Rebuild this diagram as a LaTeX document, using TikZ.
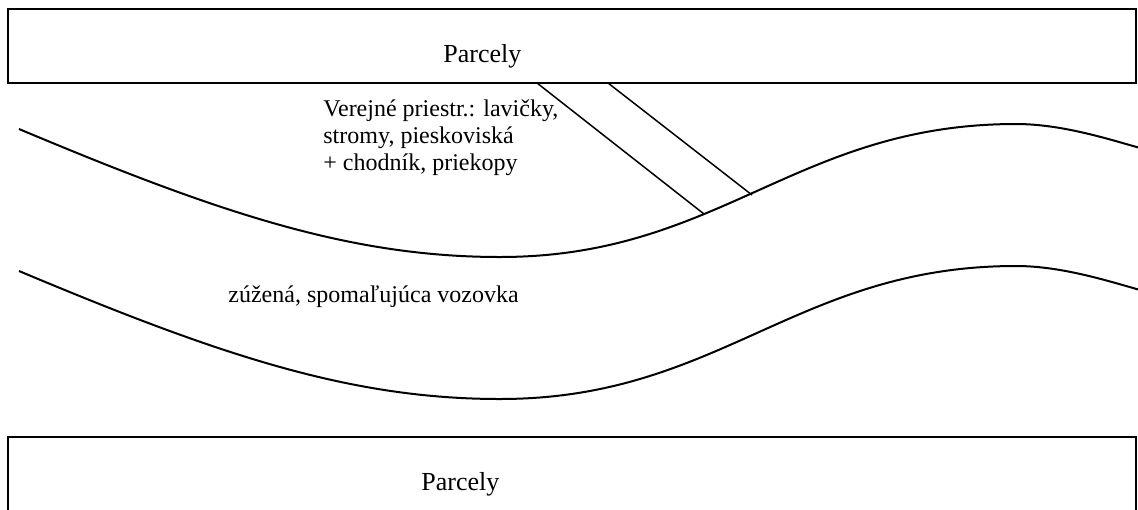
\documentclass[tikz,border=0pt]{standalone}
\usepackage{fontspec}
\setmainfont{Liberation Serif}
\tikzset{
    parcelbox/.style={draw=black, line width=1pt},
    roadedge/.style={draw=black, line width=1pt},
    crossing/.style={draw=black, line width=0.75pt},
    plain/.style={inner sep=0pt, anchor=base west, font=\fontsize{12}{13.5}\selectfont},
    parcelname/.style={inner sep=0pt, anchor=base west, font=\fontsize{13}{15}\selectfont}
}
\begin{document}
\begin{tikzpicture}[x=0.5pt, y=-0.5pt]
        \useasboundingbox (0,0) rectangle (1138,509);
        % parcels
        \draw[parcelbox] (8,9) rectangle (1136,83);
        \draw[parcelbox] (8,530) -- (8,437) -- (1136,437) -- (1136,530);
        \node[parcelname] (toplot) at (443,62) {Parcely};
        \node[parcelname] (botlot) at (421,490) {Parcely};
        % road edges
        \foreach \dy in {0,142} {
            \draw[roadedge, shift={(0,\dy)}] (19,129) .. controls (219,213) and (350,257) .. (500,257)
                .. controls (720,257) and (796,124) .. (1016,124)
                .. controls (1060,124) and (1105,138) .. (1140,148);
        }
        % crossing
        \coordinate (c1a) at (537,83);
        \coordinate (c1b) at (704,214);
        \coordinate (c2a) at (608,83);
        \coordinate (c2b) at (752,195);
        \draw[crossing] (c1a) -- (c1b);
        \draw[crossing] (c2a) -- (c2b);
        % labels (base = last line)
        \node[plain, align=left] (public) at (323,170.5) {Verejné priestr.: lavičky,\\stromy, pieskoviská\\+ chodník, priekopy};
        \node[plain] (road) at (228,302) {zúžená, spomaľujúca vozovka};
    \end{tikzpicture}
\end{document}
